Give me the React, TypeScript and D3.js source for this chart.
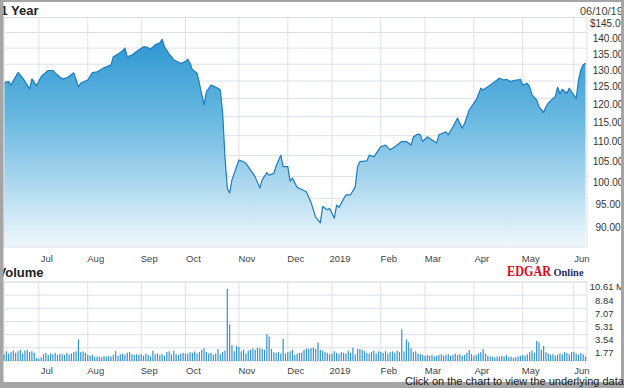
import React from "react";
import * as d3 from "d3";

const W = 624;
const H = 388;

// trading-day index of each price key point, and price
const priceIdx = [0,2,3,6,8,11,12,14,16,19,21,22,25,27,30,31,32,33,36,38,40,41,43,46,47,49,51,52,53,55,57,60,61,63,65,67,68,69,71,73,76,78,79,80,81,83,84,86,87,89,92,93,94,95,96,97,98,101,103,104,107,108,110,111,113,114,116,117,119,120,122,123,124,126,128,130,132,134,136,137,139,140,142,143,144,147,149,151,152,153,156,157,159,162,164,166,169,171,173,175,176,178,179,180,182,184,186,187,190,191,193,195,197,198,200,202,203,205,206,208,210,211,213,215,216,218,219,221,222,223,225,226,227,229,230,232,233,234,236,237,238,239,240,242,243,244,246,247,248,249,250];
const priceVal = [124.5,124.8,123.8,127.5,125.9,122.7,125.6,123.6,126.3,128.1,128.1,127.4,125.6,125.9,127.4,125.3,123.3,124.4,125.3,127.5,127.7,128.1,128.9,129.8,132.3,133.1,134.2,135.0,132.3,132.8,133.9,135.4,135.4,134.7,136.0,136.7,137.8,135.4,133.1,131.3,130.3,130.8,131.5,130.3,128.3,127.3,124.3,118.2,121.9,123.8,122.9,122.4,116.0,104.7,97.3,96.2,99.2,103.9,103.5,103.1,100.7,99.9,97.3,99.2,100.9,100.3,100.7,102.5,105.1,102.3,102.3,98.9,99.6,97.5,97.0,96.5,94.1,90.9,89.7,93.2,92.5,92.8,90.7,93.5,93.0,95.8,95.8,97.6,102.3,103.5,103.7,105.1,104.7,107.2,107.6,106.4,107.6,108.5,108.5,107.6,109.7,110.4,110.2,108.5,109.7,108.9,108.1,110.2,111.0,110.2,112.3,114.6,111.9,113.2,116.8,118.7,119.6,122.9,122.4,123.3,124.3,124.8,125.8,125.3,125.5,124.8,125.1,125.3,125.5,123.8,124.3,123.3,121.0,119.6,117.7,116.1,117.7,118.7,120.0,120.5,123.2,121.4,122.6,121.4,122.9,121.9,120.0,125.3,128.3,129.8,130.3];

// daily volume, millions
const volumes = [
  0.9,1.3,1.0,1.2,1.4,1.1,1.3,1.5,1.0,1.4,1.5,1.2,1.3,1.1,
  0.4,0.3,0.5,
  0.9,1.1,0.8,1.0,0.9,1.1,0.8,1.0,0.9,0.8,1.1,0.9,1.0,1.2,1.3,
  2.9,
  1.2,1.3,1.1,0.8,0.7,0.8,0.5,0.6,
  0.6,0.5,0.7,0.6,0.7,0.6,0.8,1.3,0.7,0.9,1.0,0.8,1.1,1.2,0.9,
  0.8,0.9,0.8,0.9,0.7,1.0,0.8,0.6,1.4,0.9,1.0,0.8,0.9,0.7,1.2,1.3,0.9,1.4,0.9,0.8,1.0,1.1,1.0,
  1.0,1.2,1.1,1.3,1.0,1.2,1.5,1.7,1.2,1.0,1.1,0.8,1.0,1.6,0.9,1.2,1.4,
  9.7,4.9,2.1,1.3,2.0,1.9,1.3,1.5,1.0,1.4,1.5,1.7,1.5,1.8,1.7,1.6,1.5,3.6,3.3,1.6,1.2,1.1,1.2,1.0,2.96,1.0,1.2,1.3,1.5,0.8,1.0,1.1,1.1,1.5,1.7,1.6,1.7,1.8,1.6,2.5,
  1.5,1.4,1.2,1.1,0.9,1.0,1.3,1.1,0.9,1.2,1.1,1.0,1.4,1.1,1.8,0.9,1.6,1.6,1.5,1.3,1.1,1.0,1.2,1.4,1.0,1.3,1.2,1.1,1.3,1.0,1.2,1.3,1.1,1.4,1.2,4.25,1.3,2.9,2.5,1.7,1.2,1.3,1.0,0.9,0.8,
  0.7,0.8,0.7,0.8,0.6,0.7,0.8,0.9,0.7,0.8,0.9,0.7,0.8,1.0,0.8,0.9,0.7,0.8,1.1,1.5,0.9,0.7,0.8,1.0,1.2,1.6,1.0,0.7,0.6,0.6,0.5,0.6,0.6,0.7,0.6,0.8,0.5,0.6,0.4,0.5,0.6,0.7,
  0.8,0.7,0.9,1.2,1.4,1.1,2.7,2.5,1.5,2.0,1.2,1.0,0.8,0.9,0.7,0.8,1.0,0.9,1.2,1.1,0.9,1.2,1.2,1.0,0.8,1.1,0.9,0.6,
];

// first trading day of each month (index) and its label
const monthIdx = [15,36,59,78,101,122,141,162,181,202,223,245];
const monthLabels = ["Jul","Aug","Sep","Oct","Nov","Dec","2019","Feb","Mar","Apr","May","Jun"];

const priceTicks = [145,140,135,130,125,120,115,110,105,100,95,90];
const volTicks = [10.61,8.84,7.07,5.31,3.54,1.77];

const titleText = "1 Year";
const dateText = "06/10/19";
const volumeTitle = "Volume";
const footText = "Click on the chart to view the underlying data";

export default function App() {
  const left = 4, right = 587;
  const pTop = 17.5, pBottom = 247;
  const vTop = 282, vBottom = 361;

  const x = d3.scaleLinear().domain([0, 250]).range([4, 585.5]);
  const y = d3.scaleLog().domain([90, 145]).range([221.5, 17.5]);
  const yv = d3.scaleLinear().domain([0, 10.61]).range([vBottom, vTop]);

  const pts = priceIdx.map((d, i) => [d, priceVal[i]] as [number, number]);
  const area = d3.area<[number, number]>()
    .x(d => x(d[0])).y0(pBottom).y1(d => y(d[1]))(pts) || "";
  const line = d3.line<[number, number]>()
    .x(d => x(d[0])).y(d => y(d[1]))(pts) || "";

  const grid = "#dde1e6";
  const font = "Arial, 'Liberation Sans', sans-serif";
  const serif = "'Liberation Serif', 'Times New Roman', serif";

  return (
    <svg width={W} height={H} style={{ position: "absolute", left: 0, top: 0, background: "#fff" }}>
      <defs>
        <linearGradient id="pg" gradientUnits="userSpaceOnUse" x1="0" y1="30" x2="0" y2={pBottom}>
          <stop offset="0" stopColor="#2793cf" />
          <stop offset="0.415" stopColor="#6ab9e1" />
          <stop offset="0.69" stopColor="#a8d6ee" />
          <stop offset="1" stopColor="#f0f7fc" />
        </linearGradient>
        <clipPath id="pc"><rect x={left} y={pTop} width={right - left} height={pBottom - pTop} /></clipPath>
      </defs>
      <rect x={0} y={0} width={W} height={H} fill="#fff" />

      {/* price panel grid */}
      {priceTicks.map(t => (
        <line key={"pg" + t} x1={left} x2={right} y1={y(t)} y2={y(t)} stroke={grid} />
      ))}
      {monthIdx.map(m => (
        <line key={"pv" + m} x1={x(m)} x2={x(m)} y1={pTop} y2={pBottom} stroke={grid} />
      ))}
      <g clipPath="url(#pc)">
        <path d={area} fill="url(#pg)" />
        <path d={line} fill="none" stroke="#1c7cbf" strokeWidth={1.2} strokeLinejoin="round" />
      </g>
      <rect x={left} y={pTop} width={right - left} height={pBottom - pTop} fill="none" stroke={grid} />

      {priceTicks.map((t, i) => (
        <text key={"pl" + t} x={608} y={y(t) + 9.5} fontSize={10} fontFamily={font} fill="#333" textAnchor="middle">
          {(i === 0 ? "$" : "") + t.toFixed(2)}
        </text>
      ))}
      {monthLabels.map((l, i) => (
        <text key={"ml" + l} x={x(monthIdx[i]) + 8} y={261.5} fontSize={9.5} fontFamily={font} fill="#444" textAnchor="middle">{l}</text>
      ))}

      {/* volume panel */}
      {volTicks.map(t => (
        <line key={"vg" + t} x1={left} x2={right} y1={yv(t)} y2={yv(t)} stroke={grid} />
      ))}
      {monthIdx.map(m => (
        <line key={"vv" + m} x1={x(m)} x2={x(m)} y1={vTop} y2={vBottom} stroke={grid} />
      ))}
      <rect x={left} y={vTop} width={right - left} height={vBottom - vTop} fill="none" stroke={grid} />
      {volumes.map((v, i) => (
        <rect key={"b" + i} x={x(i) - 0.6} y={yv(v)} width={1.2} height={vBottom - yv(v)} fill="#3493d1" />
      ))}
      {volTicks.map((t, i) => (
        <text key={"vl" + t} x={613.5} y={yv(t) + 8.4} fontSize={9.5} fontFamily={font} fill="#333" textAnchor="end">
          {t.toFixed(2)}
        </text>
      ))}
      <text x={616} y={yv(volTicks[0]) + 8.4} fontSize={9.5} fontFamily={font} fill="#333">M</text>
      {monthLabels.map((l, i) => (
        <text key={"vml" + l} x={x(monthIdx[i]) + 8} y={373.5} fontSize={9.5} fontFamily={font} fill="#444" textAnchor="middle">{l}</text>
      ))}

      {/* titles */}
      <text x={0.5} y={14.5} fontSize={13} fontWeight="bold" fontFamily={font} fill="#222">{titleText}</text>
      <text x={580} y={15} fontSize={11} fontFamily={font} fill="#444">{dateText}</text>
      <text x={-2.5} y={277} fontSize={13} fontWeight="bold" fontFamily={font} fill="#222">{volumeTitle}</text>

      {/* EDGAR Online logo */}
      <text x={507} y={276} fontSize={14} fontWeight="bold" fontFamily={serif} fill="#e0081b" textLength={44} lengthAdjust="spacingAndGlyphs">EDGAR</text>
      <text x={553.5} y={276} fontSize={10.5} fontWeight="bold" fontFamily={serif} fill="#1b2d6b" textLength={30} lengthAdjust="spacingAndGlyphs">Online</text>

      {/* frame */}
      <rect x={0} y={0} width={3.5} height={H} fill="#a5a5a5" />
      <rect x={0} y={0} width={W} height={2} fill="#a5a5a5" />
      <rect x={621} y={0} width={3} height={H} fill="#a5a5a5" />
      <rect x={0} y={382} width={W} height={6} fill="#a5a5a5" />

      <text x={405} y={384.5} fontSize={11} fontFamily={font} fill="#222">{footText}</text>
    </svg>
  );
}
